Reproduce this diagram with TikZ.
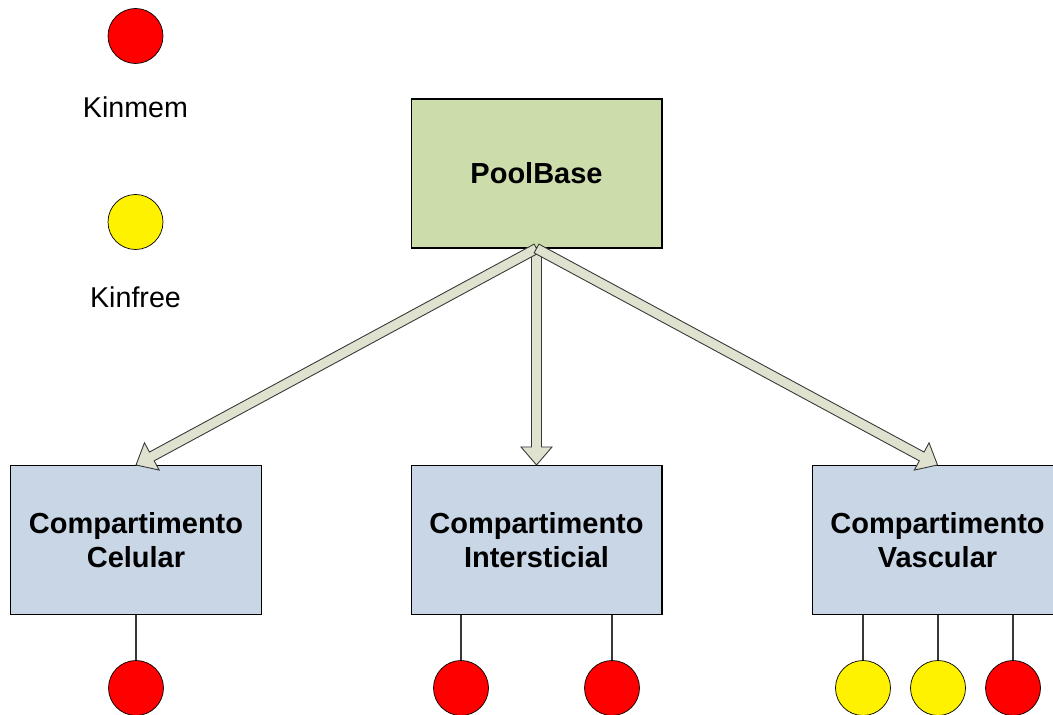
\documentclass[tikz,border=0pt]{standalone}
\usepackage{fontspec}
\setmainfont{Liberation Sans}
\usetikzlibrary{calc,positioning}

\definecolor{poolgreen}{RGB}{204,220,170}
\definecolor{compblue}{RGB}{201,214,230}
\definecolor{arrowfill}{RGB}{222,226,206}
\definecolor{edgegray}{RGB}{55,55,55}

\tikzset{
  poolbox/.style={draw=black, line width=0.6pt, fill=poolgreen,
    minimum width=5.02cm, minimum height=2.98cm,
    font=\bfseries\fontsize{16.5}{19}\selectfont, align=center},
  compbox/.style={poolbox, fill=compblue},
  kin/.style={circle, draw=black, line width=0.4pt, minimum size=1.1cm, inner sep=0pt},
  kinmem/.style={kin, fill=red},
  kinfree/.style={kin, fill=yellow},
  legtxt/.style={font=\fontsize{16.3}{19}\selectfont},
  stub/.style={draw=edgegray, line width=0.6pt},
  fatarrow/.style={draw=edgegray, line width=0.5pt, fill=arrowfill, line join=miter}
}

% hollow block arrow from #1 to #2
\newcommand{\fatarrow}[2]{%
  \coordinate (fa-s) at (#1);
  \coordinate (fa-t) at (#2);
  \coordinate (fa-h) at ($(fa-t)!0.36cm!(fa-s)$);
  \draw[fatarrow] ($(fa-s)!0.1cm!90:(fa-t)$) -- ($(fa-h)!0.1cm!90:(fa-t)$)
    -- ($(fa-h)!0.31cm!90:(fa-t)$) -- (fa-t) -- ($(fa-h)!0.31cm!-90:(fa-t)$)
    -- ($(fa-h)!0.1cm!-90:(fa-t)$) -- ($(fa-s)!0.1cm!-90:(fa-t)$) -- cycle;
}

\begin{document}
\begin{tikzpicture}[x=0.02cm, y=-0.02cm]
    \useasboundingbox (0,0) rectangle (1053,715);
    \clip (0,0) rectangle (1053,715);

    % legend
    \node[kinmem] (legmem) at (135.5,36) {};
    \node[legtxt] (legmemtxt) at (135.5,107) {Kinmem};
    \node[kinfree] (legfree) at (135.5,222) {};
    \node[legtxt] (legfreetxt) at (135.5,297) {Kinfree};

    % pool and compartments
    \node[poolbox] (pool) at (536.5,173.5) {PoolBase};
    \node[compbox] (cel) at (136,540) {Compartimento\\Celular};
    \node[compbox] (int) at (536.5,540) {Compartimento\\Intersticial};
    \node[compbox] (vas) at (937.5,540) {Compartimento\\Vascular};

    % kinases hanging below each compartment
    \node[kinmem] (cel1) at (136,688) {};
    \node[kinmem] (int1) at (461,688) {};
    \node[kinmem] (int2) at (612,688) {};
    \node[kinfree] (vas1) at (863,688) {};
    \node[kinfree] (vas2) at (938,688) {};
    \node[kinmem] (vas3) at (1013,688) {};

    \draw[stub] (cel.south) -- (cel1.north);
    \draw[stub] (int1.north |- int.south) -- (int1.north);
    \draw[stub] (int2.north |- int.south) -- (int2.north);
    \draw[stub] (vas1.north |- vas.south) -- (vas1.north);
    \draw[stub] (vas2.north |- vas.south) -- (vas2.north);
    \draw[stub] (vas3.north |- vas.south) -- (vas3.north);

    % arrows, middle one first so the others lie on top
    \fatarrow{pool.south}{int.north}
    \fatarrow{pool.south}{cel.north}
    \fatarrow{pool.south}{vas.north}
\end{tikzpicture}
\end{document}
